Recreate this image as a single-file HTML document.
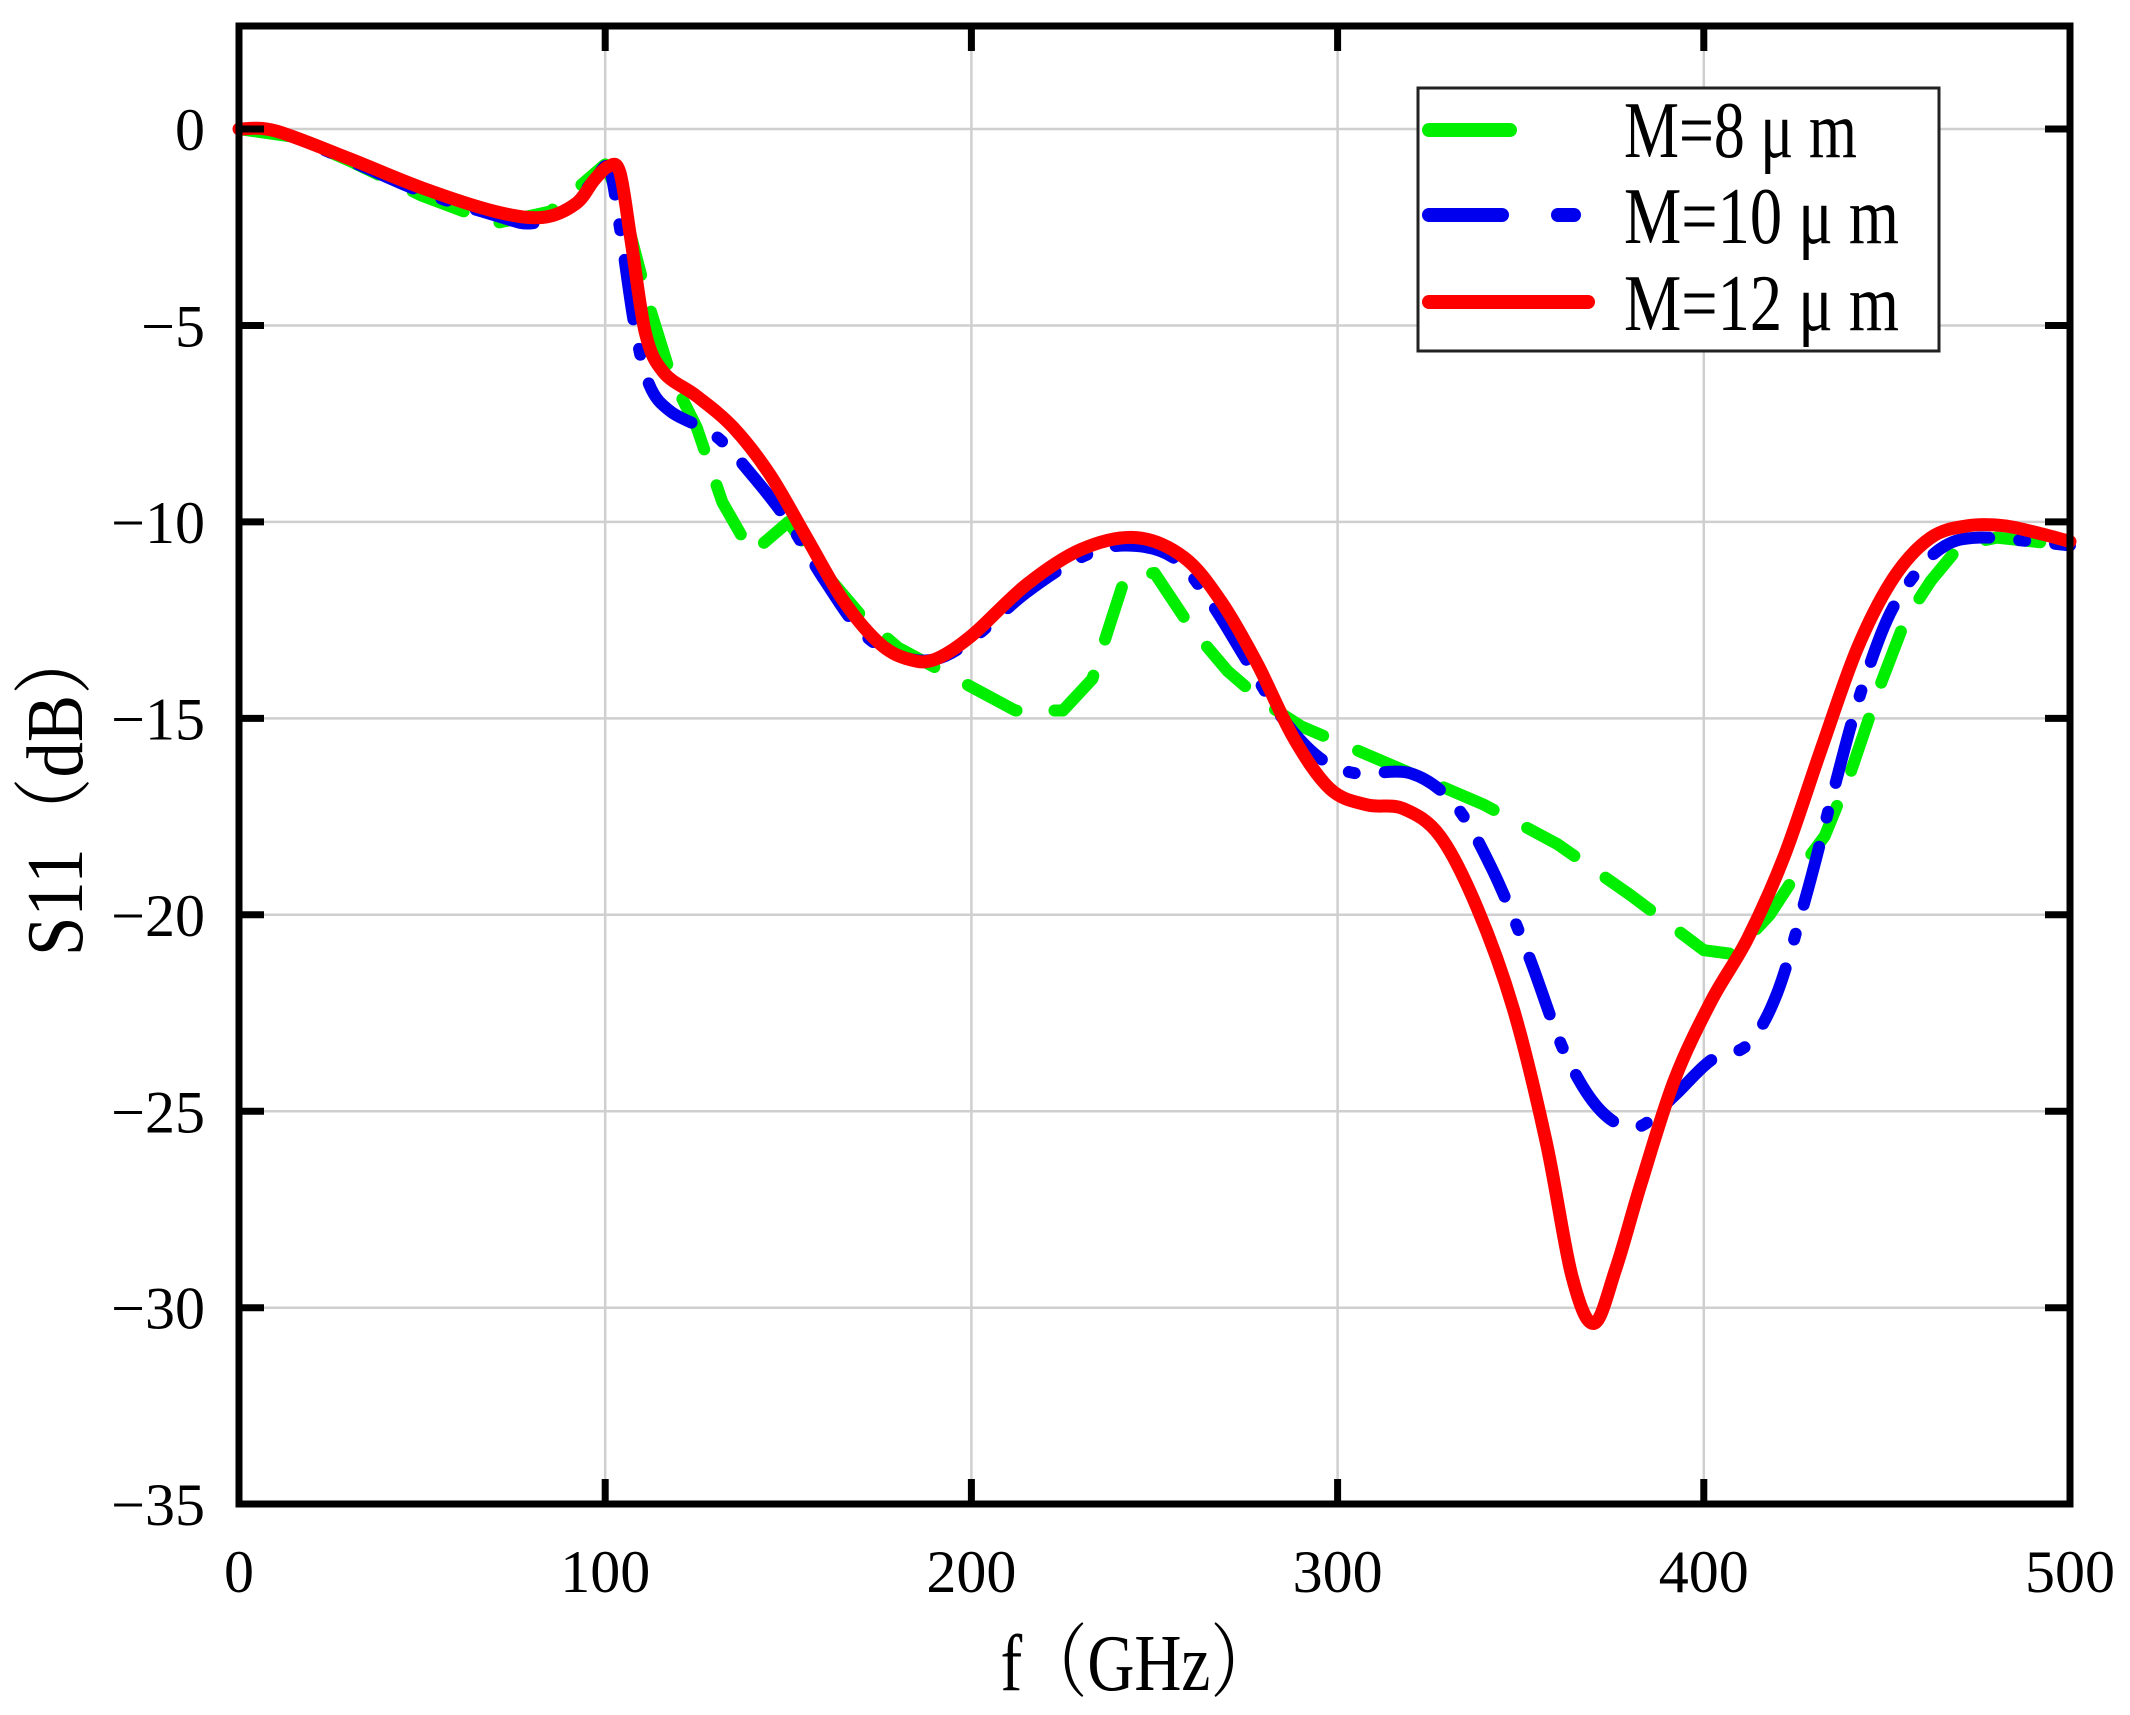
<!DOCTYPE html>
<html><head><meta charset="utf-8"><style>
html,body{margin:0;padding:0;background:#fff;width:2130px;height:1715px;overflow:hidden}
svg{display:block}
text{font-family:"Liberation Serif","Noto Serif CJK SC",serif;fill:#000}
</style></head><body>
<svg id="s" width="2130" height="1715" viewBox="0 0 2130 1715" xmlns="http://www.w3.org/2000/svg">
<g id="grid" stroke="#cfcfcf" stroke-width="2.5"></g>
<g id="curves" fill="none" stroke-linecap="round" stroke-linejoin="round"></g>
<rect x="239" y="26" width="1831" height="1478" fill="none" stroke="#000" stroke-width="7"/>
<g id="ticks" stroke="#000" stroke-width="7"></g>
<g id="labels" font-size="60"></g>
<text x="1138" y="1690" font-size="80" text-anchor="middle" textLength="275" lengthAdjust="spacingAndGlyphs">f（GHz）</text>
<text transform="translate(82,790) rotate(-90)" font-size="80" text-anchor="middle" textLength="332" lengthAdjust="spacingAndGlyphs">S11（dB）</text>
<rect x="1418" y="88" width="521" height="263" fill="#fff" stroke="#222" stroke-width="3"/>
<line x1="1429" y1="130" x2="1510" y2="130" stroke="#00ee00" stroke-width="14" stroke-linecap="round"/>
<line x1="1429" y1="215" x2="1502" y2="215" stroke="#0000ee" stroke-width="14" stroke-linecap="round"/>
<line x1="1558" y1="215" x2="1574" y2="215" stroke="#0000ee" stroke-width="14" stroke-linecap="round"/>
<line x1="1429" y1="302" x2="1588" y2="302" stroke="#ff0000" stroke-width="14" stroke-linecap="round"/>
<text x="1624" y="157" font-size="80" textLength="233" lengthAdjust="spacingAndGlyphs">M=8 μ m</text>
<text x="1624" y="243" font-size="80" textLength="275" lengthAdjust="spacingAndGlyphs">M=10 μ m</text>
<text x="1624" y="330" font-size="80" textLength="275" lengthAdjust="spacingAndGlyphs">M=12 μ m</text>
</svg>
<script>
const X=f=>239+f*3.662, Y=d=>129-d*39.29;
const NS="http://www.w3.org/2000/svg";
function el(p,t,a,txt){const e=document.createElementNS(NS,t);for(const k in a)e.setAttribute(k,a[k]);if(txt!==undefined)e.textContent=txt;document.getElementById(p).appendChild(e);return e;}
for(let f=100;f<500;f+=100)el("grid","line",{x1:X(f),y1:26,x2:X(f),y2:1504});
for(let d=0;d>-35;d-=5)el("grid","line",{x1:239,y1:Y(d),x2:2070,y2:Y(d)});
for(let f=100;f<500;f+=100){el("ticks","line",{x1:X(f),y1:1504,x2:X(f),y2:1479});el("ticks","line",{x1:X(f),y1:26,x2:X(f),y2:51});}
for(let d=0;d>-35;d-=5){el("ticks","line",{x1:239,y1:Y(d),x2:264,y2:Y(d)});el("ticks","line",{x1:2070,y1:Y(d),x2:2045,y2:Y(d)});}
for(let f=0;f<=500;f+=100)el("labels","text",{x:X(f),y:1592,"text-anchor":"middle"},String(f));
for(let d=0;d>=-35;d-=5)el("labels","text",{x:205,y:Y(d)+21,"text-anchor":"end"},d==0?"0":"−"+(-d));
function smooth(pts){const P=pts.map(p=>[X(p[0]),Y(p[1])]);let s="M"+P[0][0]+","+P[0][1];
for(let i=0;i<P.length-1;i++){const p0=P[Math.max(0,i-1)],p1=P[i],p2=P[i+1],p3=P[Math.min(P.length-1,i+2)];
s+=" C"+(p1[0]+(p2[0]-p0[0])/6)+","+(p1[1]+(p2[1]-p0[1])/6)+" "+(p2[0]-(p3[0]-p1[0])/6)+","+(p2[1]-(p3[1]-p1[1])/6)+" "+p2[0]+","+p2[1];}return s;}
function poly(pts){return "M"+pts.map(p=>X(p[0])+","+Y(p[1])).join(" L");}
const green=[[0,0],[15,-0.2],[30,-0.8],[50,-1.7],[70,-2.4],[85,-2.1],[95,-1.3],[100,-0.9],[105,-2],[112,-4.5],[118,-6.3],[125,-7.6],[132,-9.5],[140,-10.8],[150,-10],[160,-11.3],[170,-12.4],[180,-13.2],[190,-13.7],[200,-14.2],[212,-14.8],[225,-14.8],[233,-14],[242,-11.4],[250,-11.3],[260,-12.7],[270,-13.8],[280,-14.6],[290,-15.2],[300,-15.6],[320,-16.4],[340,-17.2],[360,-18.2],[380,-19.5],[400,-20.9],[408,-21],[418,-20],[425,-19],[433,-18],[440,-16.4],[448,-14.2],[455,-12.5],[462,-11.5],[470,-10.6],[480,-10.4],[500,-10.6]];
const blue=[[0,0],[10,-0.05],[30,-0.8],[50,-1.6],[70,-2.2],[80,-2.4],[90,-2],[97,-1.3],[101,-1],[104,-2.5],[108,-5],[112,-6.5],[118,-7.2],[130,-7.8],[140,-8.8],[150,-10],[160,-11.5],[170,-12.8],[180,-13.4],[190,-13.5],[200,-13],[215,-11.8],[230,-10.9],[242,-10.6],[255,-10.9],[265,-12],[275,-13.5],[285,-15],[295,-16],[305,-16.4],[320,-16.4],[332,-17.2],[342,-18.8],[352,-21],[362,-23.5],[372,-25],[382,-25.4],[392,-24.6],[402,-23.7],[412,-23.3],[420,-22],[428,-19.5],[435,-17],[442,-14.6],[450,-12.5],[458,-11.3],[466,-10.6],[475,-10.4],[490,-10.5],[500,-10.6]];
const red=[[0,0],[10,-0.05],[30,-0.75],[50,-1.5],[70,-2.1],[83,-2.25],[92,-1.9],[97,-1.3],[101,-0.95],[104,-1.1],[107,-2.8],[111,-5.2],[116,-6.2],[125,-6.8],[135,-7.6],[145,-8.8],[155,-10.4],[165,-12],[175,-13.1],[183,-13.5],[190,-13.5],[200,-12.9],[215,-11.6],[230,-10.7],[245,-10.4],[258,-10.9],[268,-12],[278,-13.6],[288,-15.5],[298,-16.8],[308,-17.2],[318,-17.3],[328,-18],[338,-19.8],[348,-22.4],[357,-25.8],[364,-29.2],[370,-30.4],[376,-29],[383,-26.8],[392,-24.2],[402,-22.2],[412,-20.6],[422,-18.5],[432,-15.8],[442,-13.2],[452,-11.4],[462,-10.4],[472,-10.1],[482,-10.1],[492,-10.3],[500,-10.5]];
el("curves","path",{d:poly(green),stroke:"#00ee00","stroke-width":12,"stroke-dasharray":"55 38"});
el("curves","path",{d:smooth(blue),stroke:"#0000ee","stroke-width":12,"stroke-dasharray":"60 30 6 30"});
el("curves","path",{d:smooth(red),stroke:"#ff0000","stroke-width":13});
</script>
</body></html>
